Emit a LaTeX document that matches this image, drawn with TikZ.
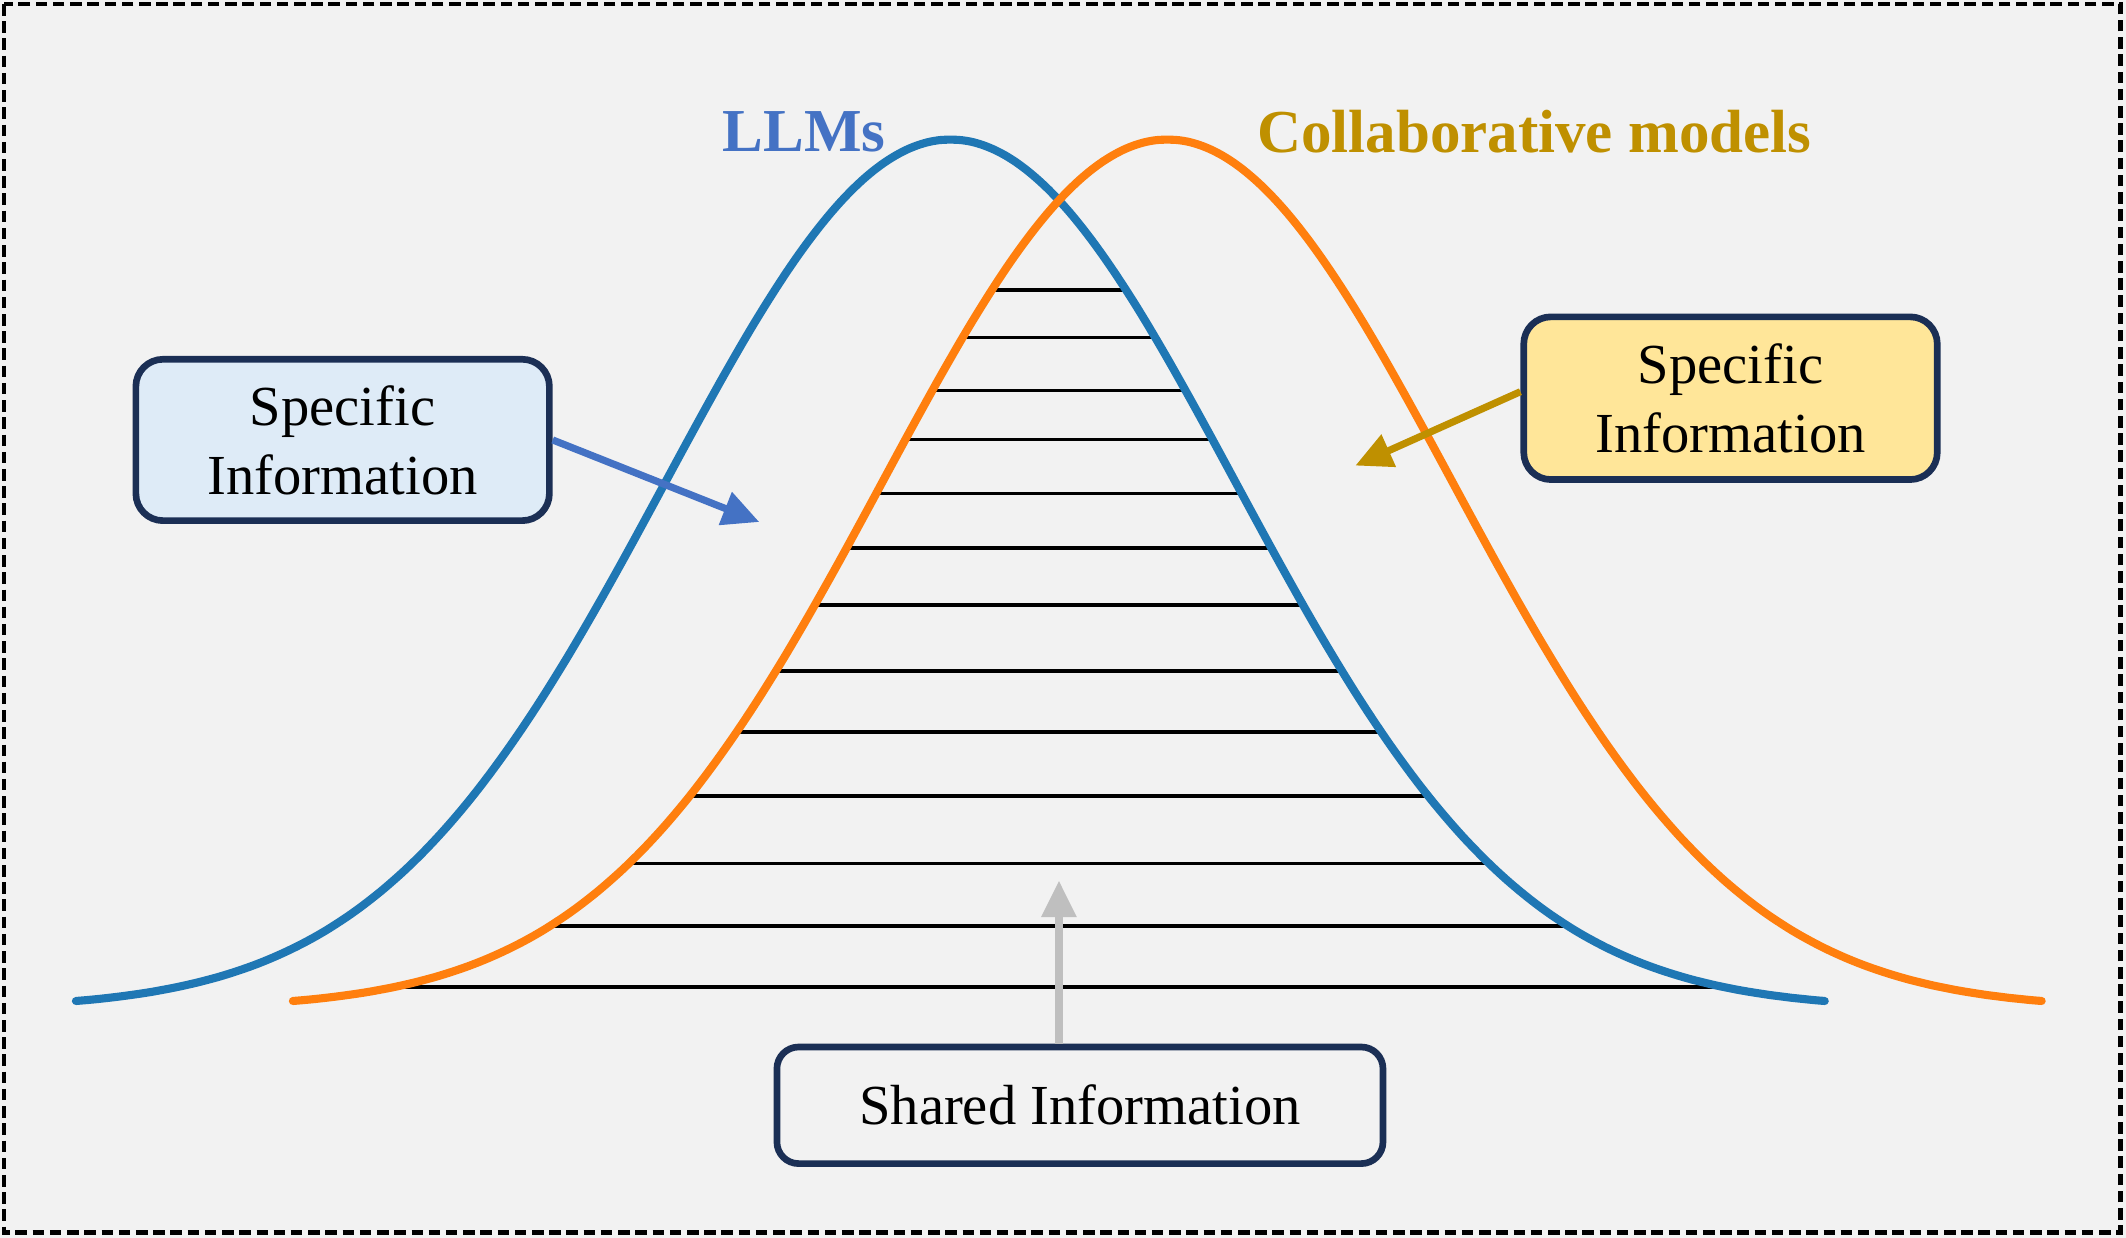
\documentclass[tikz,border=0pt]{standalone}
\usepackage{fontspec}
\setmainfont{Liberation Serif}
\usetikzlibrary{arrows.meta,calc}

\definecolor{canvas}{HTML}{F2F2F2}
\definecolor{navy}{HTML}{1B2F55}
\definecolor{paleblue}{HTML}{DEEBF7}
\definecolor{paleyellow}{HTML}{FFE699}
\definecolor{llmblue}{HTML}{4472C4}
\definecolor{gold}{HTML}{BF9000}
\definecolor{pointergray}{HTML}{BFBFBF}
\definecolor{curveblue}{HTML}{1F77B4}
\definecolor{curveorange}{HTML}{FF7F0E}

\begin{document}
\begin{tikzpicture}[x=1cm,y=-1cm,
  infobox/.style={draw=navy, line width=1.4pt, rounded corners=2mm, align=center,
    inner sep=0pt, font=\fontsize{11.87pt}{14.45pt}\selectfont},
  title/.style={anchor=base, inner sep=0pt, font=\fontsize{12.8pt}{15pt}\selectfont\bfseries},
  curve/.style={line width=1.7pt, line cap=round},
  rung/.style={line width=0.75pt, black},
  pointer/.style={line width=1.5pt, -{Triangle[length=2.7mm,width=2.5mm]}}]

% canvas and dashed frame
\useasboundingbox (0,0) rectangle (15.68,9.13);
\fill[canvas] (0,0) rectangle (15.68,9.13);
\draw[line width=0.9pt, dash pattern=on 0.85mm off 0.42mm] (0.03,0.03) rectangle (15.64,9.09);

% horizontal rungs filling the overlap of the two bell curves
\foreach \yy in {2.14,2.49,2.88,3.24,3.64,4.04,4.46,4.95,5.40,5.87,6.37,6.83,7.28}{
  \pgfmathsetmacro\dd{2.10*sqrt(2*ln(6.41/(7.44-\yy)))}
  \draw[rung] ({8.61-\dd},\yy) -- ({7.01+\dd},\yy);
}

% the two bell curves
\draw[curve, curveblue] plot[domain=-6.45:6.45, samples=161, smooth]
  ({7.01+\x},{7.44-6.41*exp(-(\x*\x)/8.82)});
\draw[curve, curveorange] plot[domain=-6.45:6.45, samples=161, smooth]
  ({8.61+\x},{7.44-6.41*exp(-(\x*\x)/8.82)});

% titles
\node[title, text=llmblue] (llm) at (5.93,1.12) {LLMs};
\node[title, text=gold] (collab) at (11.315,1.126) {Collaborative models};

% information boxes
\node[infobox, fill=paleblue, minimum width=3.05cm, minimum height=1.19cm] (lbox) at (2.527,3.245) {Specific\\Information};
\node[infobox, fill=paleyellow, minimum width=3.05cm, minimum height=1.20cm] (rbox) at (12.763,2.937) {Specific\\Information};
\node[infobox, fill=canvas, rounded corners=1.6mm, minimum width=4.47cm, minimum height=0.86cm] (sbox) at (7.965,8.152) {Shared Information};

% pointers
\coordinate (tipL) at (5.60,3.85);
\coordinate (tipR) at (9.996,3.434);
\coordinate (tipS) at (7.81,6.495);
\draw[pointer, llmblue] (lbox.east) -- (tipL);
\draw[pointer, gold] ($(rbox.west)+(0,-0.048)$) -- (tipR);
\draw[pointer, pointergray] (tipS |- sbox.north) -- (tipS);
\end{tikzpicture}
\end{document}
